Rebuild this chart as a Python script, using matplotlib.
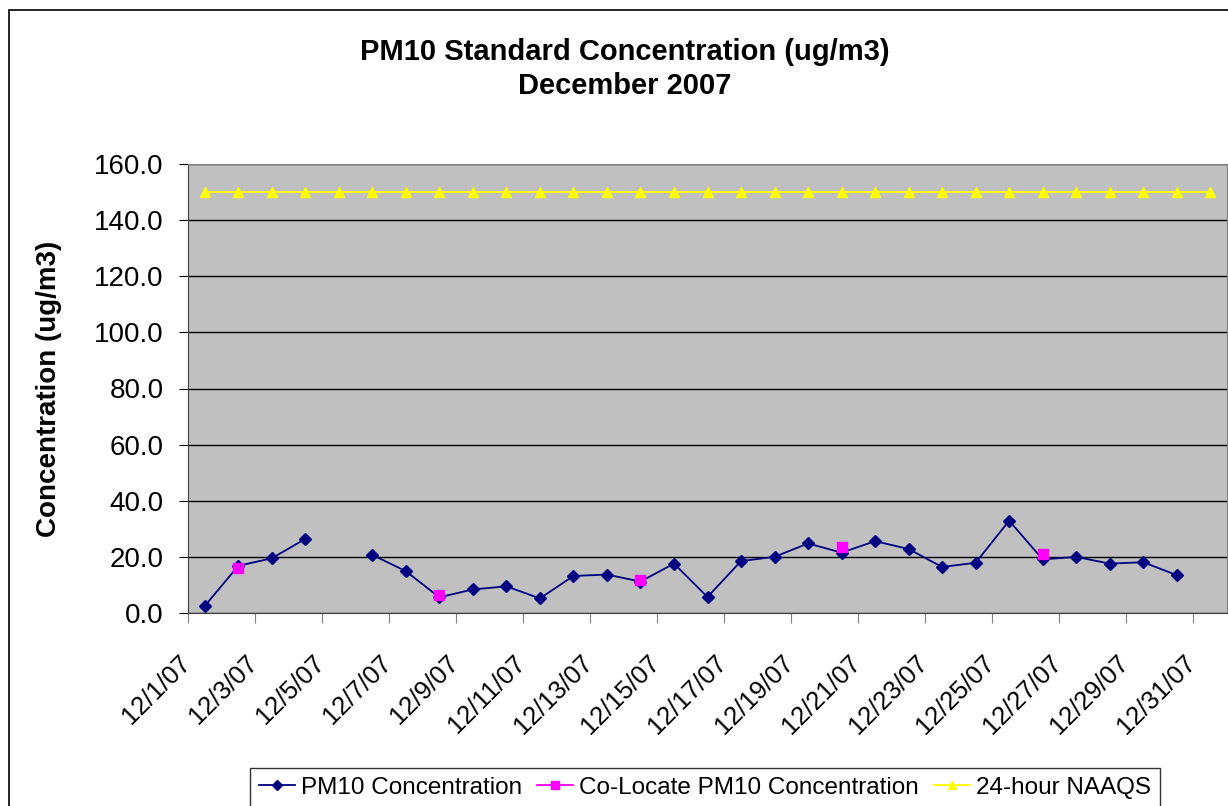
import numpy as np
import matplotlib.pyplot as plt
from matplotlib.patches import Rectangle
from matplotlib.transforms import ScaledTranslation

plt.rcParams['font.family'] = ['Liberation Sans', 'DejaVu Sans']

# Data (day of December 2007)
days = np.arange(1, 32)
pm10 = [2.5, 16.8, 19.5, 26.4, np.nan, 20.7, 14.9, 5.6, 8.4, 9.5,
        5.2, 13.2, 13.7, 11.2, 17.6, 5.7, 18.5, 20.0, 24.8, 21.5,
        25.6, 22.8, 16.4, 17.9, 32.9, 19.1, 20.0, 17.6, 18.1, 13.5, np.nan]
colocate_days = [2, 8, 14, 20, 26]
colocate = [16.1, 6.4, 11.8, 23.4, 21.0]
naaqs = [150.0] * 31

tick_days = list(range(1, 32, 2))
tick_labels = ['12/%d/07' % d for d in tick_days]

# co-located samples on the daily axis, gaps elsewhere
colocate_full = np.full(len(days), np.nan)
for d, v in zip(colocate_days, colocate):
    colocate_full[d - 1] = v

fig = plt.figure(figsize=(12.28, 8.06), dpi=100)
ax = fig.add_axes([188 / 1228, 1 - 613 / 806, 1039 / 1228, 449 / 806])

# chart outer border
fig.patches.append(Rectangle((9 / 1228, -0.1), 1.2, 1 - 10 / 806 + 0.1,
                             transform=fig.transFigure, fill=False,
                             edgecolor='black', linewidth=1.2))

ax.set_facecolor('#C0C0C0')
ax.plot(days, pm10, color='#000080', marker='D', markersize=6.5,
        linewidth=1.3, label='PM10 Concentration', zorder=3)
ax.plot(days, colocate_full, color='#FF00FF', marker='s', markersize=7,
        linewidth=1.3, label='Co-Locate PM10 Concentration', zorder=4)
ax.plot(days, naaqs, color='#FFFF00', marker='^', markersize=7.5,
        linewidth=1.3, label='24-hour NAAQS', zorder=3)

ax.set_xlim(0.5, 31.5)
ax.set_ylim(0, 160)
ax.set_yticks(np.arange(0, 161, 20))
ax.set_yticklabels(['%.1f' % v for v in np.arange(0, 161, 20)], fontsize=20)
ax.yaxis.grid(True, color='black', linewidth=1)
ax.set_axisbelow(True)

ax.set_xticks([d - 0.5 for d in tick_days])
ax.set_xticklabels(tick_labels, fontsize=18.5, rotation=45, ha='right',
                   va='top', rotation_mode='anchor')
ax.tick_params(axis='x', length=7, color='#808080', pad=20)
ax.tick_params(axis='y', length=6.5, color='black', pad=11)
shift = ScaledTranslation(-10 / 100, 0, fig.dpi_scale_trans)
for lbl in ax.get_xticklabels():
    lbl.set_transform(lbl.get_transform() + shift)

for side in ['top', 'right']:
    ax.spines[side].set_color('#808080')
ax.spines['left'].set_color('#404040')
ax.spines['bottom'].set_color('#404040')

ax.set_ylabel('Concentration (ug/m3)', fontsize=20, fontweight='bold')
ax.yaxis.set_label_coords(-0.121, 0.5)

fig.text(625 / 1228, 1 - 52 / 806, 'PM10 Standard Concentration (ug/m3)',
         ha='center', va='center', fontsize=21, fontweight='bold')
fig.text(625 / 1228, 1 - 86 / 806, 'December 2007',
         ha='center', va='center', fontsize=21, fontweight='bold')

leg = fig.legend(loc='upper center', bbox_to_anchor=(705 / 1228, 1 - 768 / 806),
                 ncol=3, fontsize=17.5, frameon=True, fancybox=False,
                 handlelength=1.5, handletextpad=0.25, columnspacing=0.6,
                 borderpad=0.35, borderaxespad=0, markerscale=0.8)
leg.get_frame().set_edgecolor('black')
leg.get_frame().set_linewidth(1)

fig.savefig('out.png', dpi=100)
